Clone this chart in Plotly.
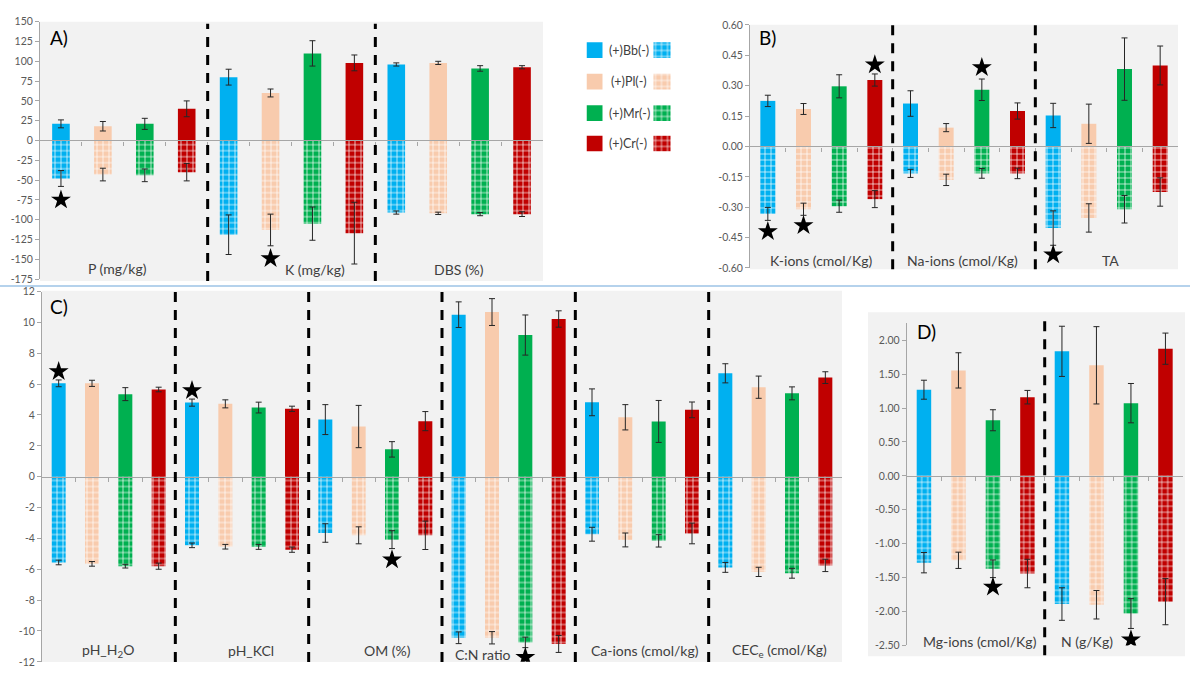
import plotly.graph_objects as go

W, H = 1190, 675

# ---------------- data ----------------
species = ["Bb", "Pl", "Mr", "Cr"]
legend_labels = ["(+)Bb(-)", "(+)Pl(-)", "(+)Mr(-)", "(+)Cr(-)"]
colors = ["#00B0F0", "#F8CBAD", "#00B050", "#C00000"]

# Panel A
A_groups = ["P (mg/kg)", "K (mg/kg)", "DBS (%)"]
A_pos = [[21, 80, 96], [18, 60, 98], [21, 110, 91], [40, 98, 92.5]]
A_pos_err = [[5, 10, 2], [6, 5, 2], [7, 16, 3.5], [10, 10, 2]]
A_neg = [[-48, -119, -91], [-43, -113, -92], [-44, -105, -93], [-40, -117, -93]]
A_neg_err = [[10, 25, 2], [8, 20, 1.5], [8, 21, 2], [11, 39, 3]]
A_star_group = [0, 1]
A_star_species = [0, 1]
A_star_y = [-75, -149]
A_ticks = [150, 125, 100, 75, 50, 25, 0, -25, -50, -75, -100, -125, -150, -175]

# Panel B
B_groups = ["K-ions (cmol/Kg)", "Na-ions (cmol/Kg)", "TA"]
B_pos = [[0.225, 0.212, 0.153], [0.185, 0.093, 0.112], [0.297, 0.28, 0.382], [0.328, 0.175, 0.4]]
B_pos_err = [[0.028, 0.063, 0.06], [0.027, 0.02, 0.097], [0.057, 0.053, 0.154], [0.03, 0.04, 0.096]]
B_neg = [[-0.333, -0.133, -0.403], [-0.31, -0.165, -0.353], [-0.295, -0.133, -0.31], [-0.26, -0.133, -0.225]]
B_neg_err = [[0.032, 0.02, 0.085], [0.03, 0.028, 0.07], [0.03, 0.024, 0.068], [0.042, 0.026, 0.07]]
B_star_group = [0, 0, 0, 1, 2]
B_star_species = [0, 1, 3, 2, 0]
B_star_y = [-0.42, -0.39, 0.403, 0.39, -0.535]
B_ticks = [0.60, 0.45, 0.30, 0.15, 0.0, -0.15, -0.30, -0.45, -0.60]

# Panel C
C_groups = ["pH_H<sub>2</sub>O", "pH_KCl", "OM (%)", "C:N ratio", "Ca-ions (cmol/kg)", "CEC<sub>e</sub> (cmol/Kg)"]
C_pos = [[6.05, 4.8, 3.7, 10.5, 4.82, 6.7], [6.05, 4.72, 3.25, 10.67, 3.85, 5.8],
         [5.35, 4.48, 1.77, 9.18, 3.58, 5.4], [5.65, 4.4, 3.6, 10.22, 4.33, 6.42]]
C_pos_err = [[0.22, 0.23, 0.97, 0.83, 0.87, 0.62], [0.2, 0.26, 1.37, 0.87, 0.82, 0.72],
             [0.42, 0.35, 0.5, 1.3, 1.36, 0.42], [0.15, 0.17, 0.62, 0.53, 0.51, 0.38]]
C_neg = [[-5.56, -4.45, -3.65, -10.44, -3.73, -5.88], [-5.65, -4.54, -3.8, -10.44, -4.1, -6.17],
         [-5.8, -4.55, -4.08, -10.74, -4.16, -6.26], [-5.8, -4.73, -3.8, -10.84, -3.68, -5.75]]
C_neg_err = [[0.15, 0.15, 0.6, 0.38, 0.45, 0.32], [0.15, 0.15, 0.55, 0.4, 0.45, 0.3],
             [0.12, 0.16, 0.58, 0.34, 0.4, 0.32], [0.2, 0.17, 0.92, 0.55, 0.67, 0.4]]
C_star_group = [0, 1, 2, 3]
C_star_species = [0, 0, 2, 2]
C_star_y = [6.81, 5.58, -5.39, -11.71]
C_ticks = [12, 10, 8, 6, 4, 2, 0, -2, -4, -6, -8, -10, -12]

# Panel D
D_groups = ["Mg-ions (cmol/Kg)", "N (g/Kg)"]
D_pos = [[1.27, 1.836], [1.555, 1.63], [0.82, 1.072], [1.16, 1.875]]
D_pos_err = [[0.14, 0.37], [0.26, 0.57], [0.155, 0.29], [0.1, 0.23]]
D_neg = [[-1.28, -1.89], [-1.245, -1.9], [-1.37, -2.03], [-1.44, -1.855]]
D_neg_err = [[0.15, 0.24], [0.12, 0.21], [0.13, 0.22], [0.21, 0.34]]
D_star_group = [0, 1]
D_star_species = [2, 2]
D_star_y = [-1.64, -2.415]
D_ticks = [2.0, 1.5, 1.0, 0.5, 0.0, -0.5, -1.0, -1.5, -2.0, -2.5]

# ---------------- layout helpers ----------------
def px_x(p):
    return p / W


def px_y(p):
    return 1 - p / H


FONT = "Lato, 'Open Sans', Arial, sans-serif"
GRAY_BG = "#F2F2F2"
AXIS_COL = "#A6A6A6"
TICK_COL = "#595959"
LABEL_COL = "#404040"

panels = [
    dict(letter="A)", groups=A_groups, pos=A_pos, pos_err=A_pos_err, neg=A_neg, neg_err=A_neg_err,
         sg=A_star_group, ss=A_star_species, sy=A_star_y, ticks=A_ticks, fmt="{:.0f}",
         x0=40, x1=543, top=16, bottom=278, yr=[-175, 150],
         bg=(40, 16, 543, 280), dash=(18, 280), letter_pos=(48, 32),
         label_pos=[(117, 267), (315, 268), (459, 268)]),
    dict(letter="B)", groups=B_groups, pos=B_pos, pos_err=B_pos_err, neg=B_neg, neg_err=B_neg_err,
         sg=B_star_group, ss=B_star_species, sy=B_star_y, ticks=B_ticks, fmt="{:.2f}",
         x0=750, x1=1178, top=19.3, bottom=266.7, yr=[-0.6, 0.6],
         bg=(750, 19, 1178, 268), dash=(19, 268), letter_pos=(757, 32),
         label_pos=[(821, 259), (962, 259), (1110, 259)]),
    dict(letter="C)", groups=C_groups, pos=C_pos, pos_err=C_pos_err, neg=C_neg, neg_err=C_neg_err,
         sg=C_star_group, ss=C_star_species, sy=C_star_y, ticks=C_ticks, fmt="{:.0f}",
         x0=42, x1=842, top=290.7, bottom=667.7, yr=[-12, 12],
         bg=(42, 290, 842, 668), dash=(290, 668), letter_pos=(48, 306),
         label_pos=[(108, 656), (251, 656), (387, 656), (483, 660), (645, 656), (779, 656)]),
    dict(letter="D)", groups=D_groups, pos=D_pos, pos_err=D_pos_err, neg=D_neg, neg_err=D_neg_err,
         sg=D_star_group, ss=D_star_species, sy=D_star_y, ticks=D_ticks, fmt="{:.2f}",
         x0=906.7, x1=1182.7, top=323, bottom=651, yr=[-2.5, 2.25],
         bg=(868, 311.7, 1185, 662), dash=(313, 661), letter_pos=(915, 331),
         label_pos=[(980, 647), (1087, 647)]),
]

fig = go.Figure()
shapes = []
annotations = []
layout_axes = {}

BAR_W = 0.42
ERR_COL = "#262626"
PATTERN = dict(shape="+", fgcolor="white", size=6, solidity=0.22, fillmode="replace")

for i, p in enumerate(panels, start=1):
    sfx = "" if i == 1 else str(i)
    xa, ya = "x" + sfx, "y" + sfx
    ng = len(p["groups"])
    nslots = ng * 4
    # background
    bx0, by0, bx1, by1 = p["bg"]
    shapes.append(dict(type="rect", xref="paper", yref="paper", x0=px_x(bx0), x1=px_x(bx1),
                       y0=px_y(by1), y1=px_y(by0), fillcolor=GRAY_BG, line_width=0, layer="below"))
    for s in range(4):
        xs = [g * 4 + s for g in range(ng)]
        fig.add_trace(go.Bar(
            x=xs, y=p["pos"][s], width=BAR_W, xaxis=xa, yaxis=ya,
            marker=dict(color=colors[s], line=dict(width=0)),
            error_y=dict(type="data", array=p["pos_err"][s], color=ERR_COL, thickness=1, width=3),
            showlegend=False, hoverinfo="skip"))
        fig.add_trace(go.Bar(
            x=xs, y=p["neg"][s], width=BAR_W, xaxis=xa, yaxis=ya,
            marker=dict(color=colors[s], line=dict(width=0),
                        pattern=dict(PATTERN, bgcolor=colors[s])),
            error_y=dict(type="data", array=p["neg_err"][s], color=ERR_COL, thickness=1, width=3),
            showlegend=False, hoverinfo="skip"))
    # stars
    fig.add_trace(go.Scatter(
        x=[g * 4 + s for g, s in zip(p["sg"], p["ss"])], y=p["sy"], mode="markers",
        xaxis=xa, yaxis=ya, marker=dict(symbol="star", size=15, color="black", line=dict(width=0)),
        showlegend=False, hoverinfo="skip"))
    # dashed separators
    d0, d1 = p["dash"]
    for g in range(1, ng):
        shapes.append(dict(type="line", xref=xa, yref="paper", x0=g * 4 - 0.5, x1=g * 4 - 0.5,
                           y0=px_y(d1), y1=px_y(d0),
                           line=dict(color="black", width=3, dash="10px,8px")))
    # axes
    yb, yt = px_y(p["bottom"]), px_y(p["top"])
    r0, r1 = p["yr"]
    zero_pos = yb + (0 - r0) / (r1 - r0) * (yt - yb)
    layout_axes["xaxis" + sfx] = dict(
        domain=[px_x(p["x0"]), px_x(p["x1"])], range=[-0.5, nslots - 0.5],
        anchor="free", position=zero_pos, showline=True, linecolor=AXIS_COL, linewidth=1.3,
        ticks="outside", ticklen=4, tickcolor=AXIS_COL, tickwidth=1,
        tickvals=[k - 0.5 for k in range(1, nslots)], showticklabels=False,
        showgrid=False, zeroline=False, fixedrange=True)
    layout_axes["yaxis" + sfx] = dict(
        domain=[yb, yt], range=[r0, r1], anchor=xa, showline=True, linecolor=AXIS_COL,
        linewidth=1, ticks="outside", ticklen=4, tickcolor=AXIS_COL,
        tickvals=p["ticks"], ticktext=[p["fmt"].format(t) for t in p["ticks"]],
        tickfont=dict(family=FONT, size=10.5, color=TICK_COL),
        showgrid=False, zeroline=False, fixedrange=True)
    # texts
    lx, ly = p["letter_pos"]
    annotations.append(dict(text=p["letter"], x=px_x(lx), y=px_y(ly), xref="paper", yref="paper",
                            xanchor="left", yanchor="middle", showarrow=False,
                            font=dict(family=FONT, size=19, color="black")))
    for name, (cx, cy) in zip(p["groups"], p["label_pos"]):
        annotations.append(dict(text=name, x=px_x(cx), y=px_y(cy), xref="paper", yref="paper",
                                xanchor="center", yanchor="middle", showarrow=False,
                                font=dict(family=FONT, size=14, color=LABEL_COL)))

# ---------------- legend (custom, solid + patterned keys) ----------------
legend_rows = [45, 77, 109, 140]
for s in range(4):
    fig.add_trace(go.Bar(
        y=[legend_rows[s]], x=[16], base=[0], width=16, orientation="h",
        xaxis="x5", yaxis="y5", marker=dict(color=colors[s], line=dict(width=0)),
        showlegend=False, hoverinfo="skip"))
    fig.add_trace(go.Bar(
        y=[legend_rows[s]], x=[17], base=[67], width=16, orientation="h",
        xaxis="x5", yaxis="y5",
        marker=dict(color=colors[s], line=dict(width=0), pattern=dict(PATTERN, bgcolor=colors[s])),
        showlegend=False, hoverinfo="skip"))
    annotations.append(dict(text=legend_labels[s], x=px_x(606.5 + (2 if s == 1 else 0)),
                            y=px_y(legend_rows[s]), xref="paper", yref="paper",
                            xanchor="left", yanchor="middle", showarrow=False,
                            font=dict(family=FONT, size=12.5, color=LABEL_COL)))
layout_axes["xaxis5"] = dict(domain=[px_x(586.5), px_x(671.5)], range=[0, 85], visible=False,
                             fixedrange=True)
layout_axes["yaxis5"] = dict(domain=[px_y(160), px_y(30)], range=[160, 30], visible=False,
                             anchor="x5", fixedrange=True)

# separator line between the top and bottom rows
shapes.append(dict(type="line", xref="paper", yref="paper", x0=0, x1=1,
                   y0=px_y(285), y1=px_y(285), line=dict(color="#9DC3E6", width=1.5)))

fig.update_layout(
    width=W, height=H, autosize=False,
    margin=dict(l=0, r=0, t=0, b=0),
    paper_bgcolor="white", plot_bgcolor="rgba(0,0,0,0)",
    barmode="overlay", showlegend=False,
    shapes=shapes, annotations=annotations,
    font=dict(family=FONT),
    **layout_axes,
)

fig.write_html("out.html", config={"displayModeBar": False},
               post_script="document.body.style.margin='0';")
